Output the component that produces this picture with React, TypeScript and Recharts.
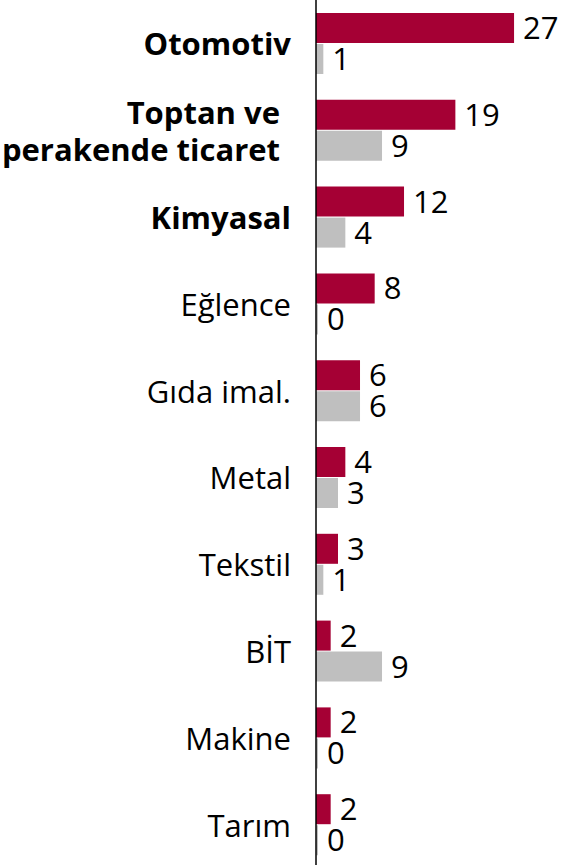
import React from "react";
import { BarChart, Bar, XAxis, YAxis, LabelList } from "recharts";

const categories = [
  "Otomotiv",
  "Toptan ve|perakende ticaret",
  "Kimyasal",
  "Eğlence",
  "Gıda imal.",
  "Metal",
  "Tekstil",
  "BİT",
  "Makine",
  "Tarım",
];
const boldCategories = ["Otomotiv", "Toptan ve|perakende ticaret", "Kimyasal"];
const seriesA = [27, 19, 12, 8, 6, 4, 3, 2, 2, 2];
const seriesB = [1, 9, 4, 0, 6, 3, 1, 9, 0, 0];

const data = categories.map((c, i) => ({ name: c, a: seriesA[i], b: seriesB[i] }));

const FONT = "'Open Sans', sans-serif";

const Tick = (props: any) => {
  const { x, y, payload } = props;
  const name: string = payload.value;
  const bold = boldCategories.includes(name);
  const lines = name.split("|");
  const lh = 37;
  const start = -((lines.length - 1) * lh) / 2;
  const tx = lines.length > 1 ? x - 11 : x;
  return (
    <text
      x={tx}
      y={y}
      textAnchor="end"
      fontFamily={FONT}
      fontSize={31}
      fontWeight={bold ? 700 : 400}
      fill="#000"
    >
      {lines.map((l, i) => (
        <tspan key={i} x={tx} dy={i === 0 ? start : lh} dominantBaseline="central">
          {l}
        </tspan>
      ))}
    </text>
  );
};

export default function App() {
  return (
    <div style={{ position: "absolute", left: 0, top: 0, width: 561, height: 865, overflow: "hidden", background: "#fff" }}>
      <BarChart
        layout="vertical"
        width={561}
        height={868}
        data={data}
        margin={{ top: 0, right: 0, bottom: 0, left: 0 }}
        barSize={30}
        barGap={1}
      >
        <XAxis type="number" hide domain={[0, 33.4]} />
        <YAxis
          type="category"
          dataKey="name"
          width={316}
          tickLine={false}
          tickSize={0}
          tickMargin={25}
          axisLine={{ stroke: "#000", strokeWidth: 1.5 }}
          tick={<Tick />}
          interval={0}
        />
        <Bar dataKey="a" fill="#A50034" isAnimationActive={false}>
          <LabelList dataKey="a" position="right" offset={9} fill="#000" fontSize={31} fontFamily={FONT} />
        </Bar>
        <Bar dataKey="b" fill="#BFBFBF" minPointSize={2} isAnimationActive={false}>
          <LabelList dataKey="b" position="right" offset={9} fill="#000" fontSize={31} fontFamily={FONT} />
        </Bar>
      </BarChart>
    </div>
  );
}
